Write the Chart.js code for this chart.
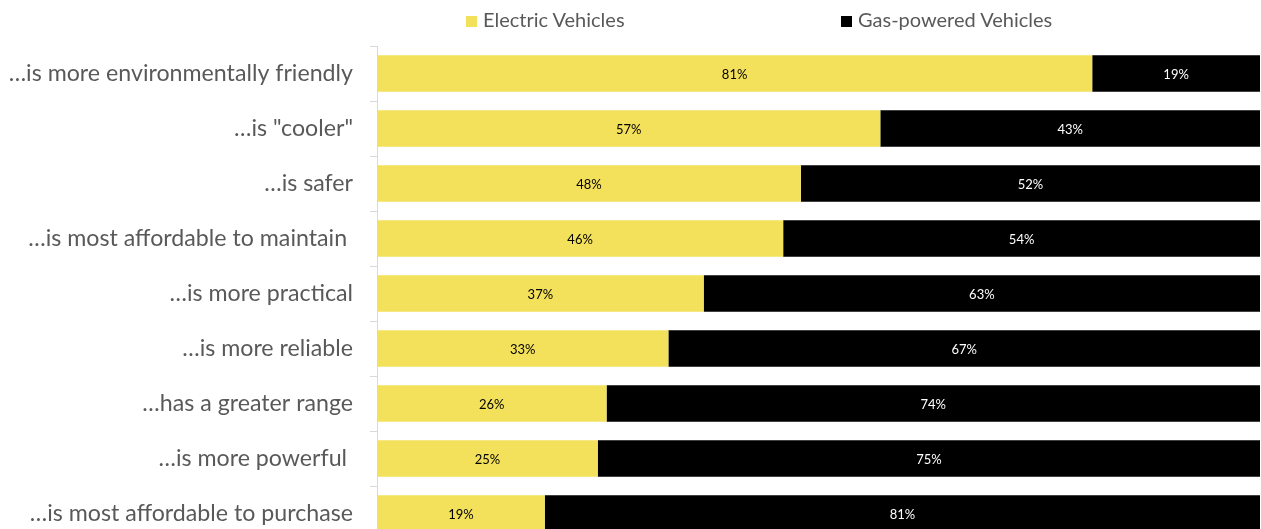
<!DOCTYPE html>
<html lang="en">
<head>
    <meta charset="UTF-8">
    <title>Electric vs Gas-powered Vehicles</title>
    <script src="https://cdn.jsdelivr.net/npm/chart.js"></script>
    <style>
        body { margin: 0; overflow: hidden; background: #fff; font-family: Lato, "Open Sans", sans-serif; }
        #wrap { position: relative; width: 1261px; height: 541px; }
        #evChart { position: absolute; left: 0; top: 0; }
        .legend { position: absolute; top: 6px; font-size: 20px; color: #595959; white-space: nowrap; line-height: 26px; }
        .legend span.box { display: inline-block; width: 11px; height: 11px; margin-right: 6px; vertical-align: 0px; }
    </style>
</head>
<body>
    <div id="wrap">
        <canvas id="evChart" width="1261" height="541"></canvas>
        <div class="legend" style="left:466px"><span class="box" style="background:#F3E05B"></span>Electric Vehicles</div>
        <div class="legend" style="left:841px"><span class="box" style="background:#000"></span>Gas-powered Vehicles</div>
    </div>

    <script>
        // survey statements (y axis)
        let statements = [
            "…is more environmentally friendly",
            "…is \"cooler\"",
            "…is safer",
            "…is most affordable to maintain ",
            "…is more practical",
            "…is more reliable",
            "…has a greater range",
            "…is more powerful ",
            "…is most affordable to purchase"
        ];
        let electric = [81, 57, 48, 46, 37, 33, 26, 25, 19]; // % electric
        let gas = [19, 43, 52, 54, 63, 67, 74, 75, 81];       // % gas-powered

        // draw % labels in the middle of each bar
        const barLabels = {
            id: "barLabels",
            afterDatasetsDraw(chart) {
                let ctx = chart.ctx;
                ctx.save();
                ctx.font = "13px Lato, sans-serif";
                ctx.textAlign = "center";
                ctx.textBaseline = "middle";
                chart.data.datasets.forEach((ds, i) => {
                    let meta = chart.getDatasetMeta(i);
                    meta.data.forEach((bar, j) => {
                        let p = bar.getCenterPoint();
                        ctx.fillStyle = i === 0 ? "#000" : "#fff";
                        ctx.fillText(ds.data[j] + "%", p.x, p.y + 1);
                    });
                });
                ctx.restore();
            }
        };

        let ctx = document.getElementById("evChart").getContext("2d");
        new Chart(ctx, {
            type: "bar",
            data: {
                labels: statements,
                datasets: [
                    { label: "Electric Vehicles", data: electric, backgroundColor: "#F3E05B" },
                    { label: "Gas-powered Vehicles", data: gas, backgroundColor: "#000000" }
                ]
            },
            options: {
                indexAxis: "y",
                responsive: false,
                animation: false,
                categoryPercentage: 1,
                barPercentage: 0.66,
                layout: { padding: { top: 46, right: 1, left: 0, bottom: 0 } },
                plugins: {
                    legend: { display: false },
                    tooltip: { enabled: false }
                },
                scales: {
                    x: { stacked: true, min: 0, max: 100, display: false },
                    y: {
                        stacked: true,
                        // fixed axis position, no extra label padding at top/bottom
                        afterFit: s => { s.width = 377; s.paddingTop = 0; s.paddingBottom = 0; },
                        border: { color: "#d9d9d9", width: 1 },
                        grid: { drawOnChartArea: false, drawTicks: true, tickLength: 7, color: "#d9d9d9", offset: true },
                        ticks: { color: "#595959", padding: 17, font: { family: "Lato", size: 23.2 } }
                    }
                }
            },
            plugins: [barLabels]
        });
    </script>
</body>
</html>
